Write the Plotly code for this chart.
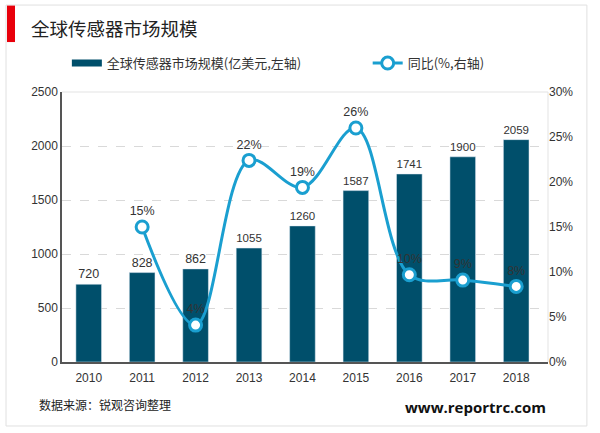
import plotly.graph_objects as go

years = ["2010", "2011", "2012", "2013", "2014", "2015", "2016", "2017", "2018"]
market_size = [720, 828, 862, 1055, 1260, 1587, 1741, 1900, 2059]
yoy_years = ["2011", "2012", "2013", "2014", "2015", "2016", "2017", "2018"]
yoy_pct = [15.0, 4.1, 22.4, 19.4, 26.0, 9.7, 9.1, 8.4]
yoy_labels = ["15%", "4%", "22%", "19%", "26%", "10%", "9%", "8%"]

FONT = "Liberation Sans, Arial, Noto Sans CJK SC, sans-serif"
CJK = "Noto Sans CJK SC, Microsoft YaHei, sans-serif"
BAR_C = "#004F6B"
LINE_C = "#1A9FD0"

fig = go.Figure()
fig.add_trace(go.Bar(
    x=years, y=market_size, name="全球传感器市场规模(亿美元,左轴)",
    marker=dict(color=BAR_C), width=0.48, showlegend=False,
    text=[str(v) for v in market_size], textposition="outside",
    textfont=dict(size=12.5, color="#333333", family=FONT),
    cliponaxis=False,
))
# legend entry for bars (wide swatch like the reference)
fig.add_trace(go.Scatter(
    x=[None], y=[None], name="全球传感器市场规模(亿美元,左轴)", mode="lines",
    line=dict(color=BAR_C, width=7), showlegend=True, legend="legend",
))
fig.add_trace(go.Scatter(
    x=yoy_years, y=yoy_pct, name="同比(%,右轴)", yaxis="y2",
    mode="lines+markers+text", legend="legend2",
    line=dict(color=LINE_C, width=3, shape="spline", smoothing=1.0),
    marker=dict(size=12, color="white", line=dict(color=LINE_C, width=3)),
    text=yoy_labels, textposition="top center",
    textfont=dict(size=12.5, color="#333333", family=FONT),
    cliponaxis=False,
))

leg_common = dict(orientation="h", xanchor="left", yanchor="middle",
                  font=dict(family=CJK, size=13, color="#333333"),
                  itemwidth=30, bgcolor="rgba(0,0,0,0)")

fig.update_layout(
    width=600, height=433,
    margin=dict(l=62, r=52, t=92, b=71, autoexpand=False),
    paper_bgcolor="white", plot_bgcolor="white",
    font=dict(family=FONT, color="#333333", size=12),
    showlegend=True,
    legend=dict(x=0.01, y=1.107, **leg_common),
    legend2=dict(x=0.629, y=1.107, **leg_common),
    xaxis=dict(showline=True, linecolor="#555555", linewidth=1.5, ticks="",
               ticklabelstandoff=4,
               tickfont=dict(size=12, color="#333333"), showgrid=False),
    yaxis=dict(range=[0, 2500], dtick=500, showline=True, linecolor="#555555",
               linewidth=1.5, showgrid=True, gridcolor="#D9D9D9", griddash="dash",
               gridwidth=1, zeroline=False, ticks="", tickfont=dict(size=12, color="#333333")),
    yaxis2=dict(range=[0, 30], dtick=5, ticksuffix="%", overlaying="y", side="right",
                showgrid=False, zeroline=False, showline=False, ticks="",
                tickfont=dict(size=12, color="#333333")),
    shapes=[
        dict(type="rect", xref="paper", yref="paper", x0=-0.1152, x1=1.080, y0=-0.237, y1=1.322,
             line=dict(color="#E0E0E0", width=1), fillcolor="rgba(0,0,0,0)", layer="below"),
        dict(type="rect", xref="paper", yref="paper", x0=-0.1132, x1=-0.0967, y0=1.185, y1=1.320,
             line=dict(width=0), fillcolor="#E8000B"),
        dict(type="line", xref="paper", yref="paper", x0=0, x1=1, y0=1, y1=1,
             line=dict(color="#E3E3E3", width=1)),
        dict(type="line", xref="paper", yref="paper", x0=1, x1=1, y0=0, y1=1,
             line=dict(color="#E3E3E3", width=1)),
    ],
    annotations=[
        dict(text="全球传感器市场规模", xref="paper", yref="paper", x=-0.068, y=1.237,
             xanchor="left", yanchor="middle", showarrow=False,
             font=dict(family=CJK, size=18.5, color="#222222")),
        dict(text="数据来源：锐观咨询整理", xref="paper", yref="paper", x=-0.052, y=-0.158,
             xanchor="left", yanchor="middle", showarrow=False,
             font=dict(family=CJK, size=12, color="#222222")),
        dict(text="<b>www.reportrc.com</b>", xref="paper", yref="paper", x=1.0, y=-0.168,
             xanchor="right", yanchor="middle", showarrow=False,
             font=dict(family="Open Sans, DejaVu Sans, sans-serif", size=15, color="#111111")),
    ],
)

fig.write_html("out.html", config={"displayModeBar": False},
               post_script="document.body.style.margin='0px';")
